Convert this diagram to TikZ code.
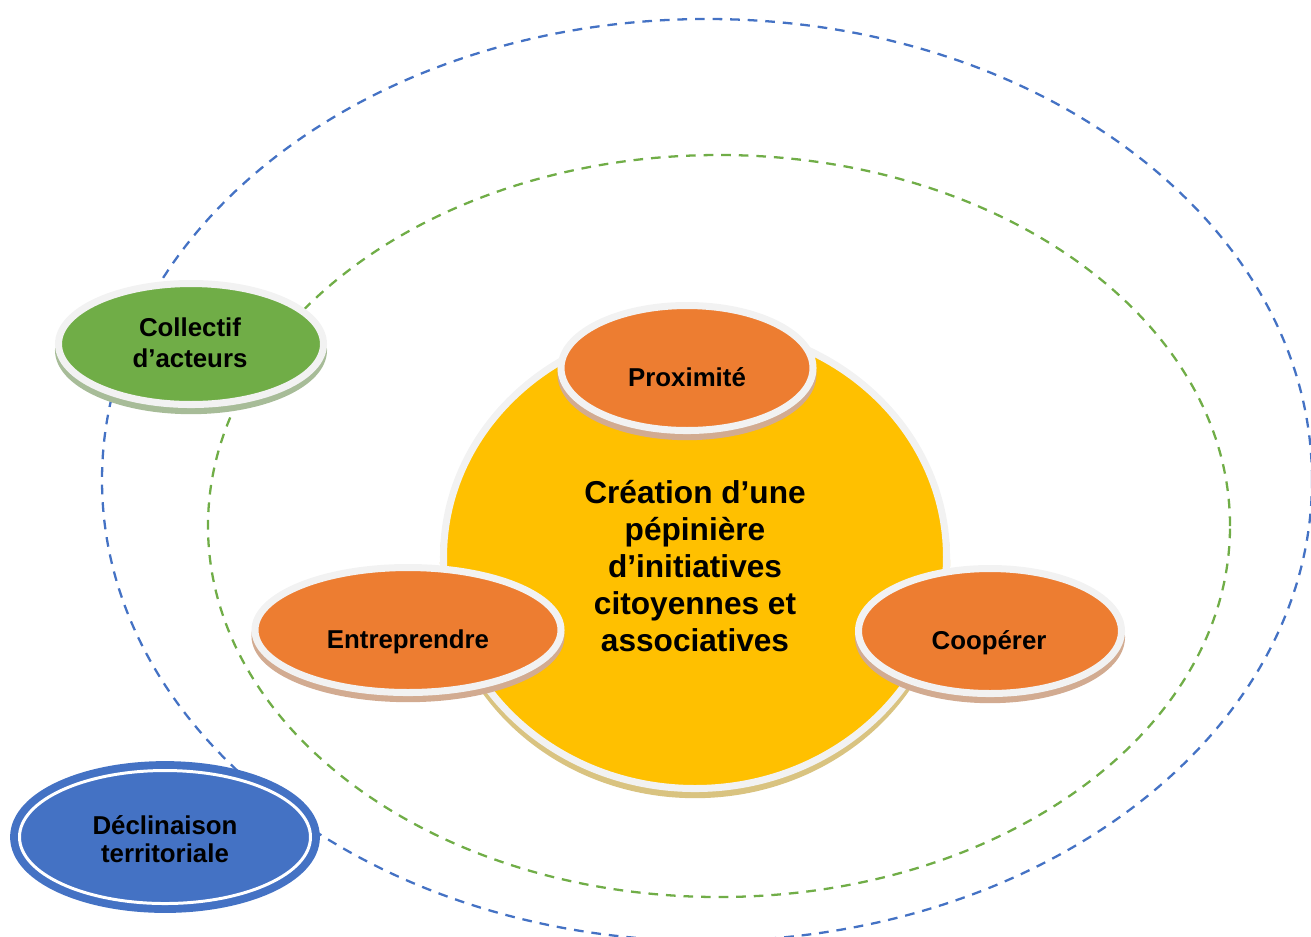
\documentclass[tikz,border=0pt]{standalone}
\usepackage{fontspec}
\setmainfont{Liberation Sans}
\usetikzlibrary{shapes.geometric}

\definecolor{bleu}{HTML}{4472C4}
\definecolor{vert}{HTML}{70AD47}
\definecolor{orangeb}{HTML}{ED7D31}
\definecolor{jaune}{HTML}{FFC000}
\definecolor{anneau}{HTML}{F2F2F2}

\tikzset{
    orbite/.style={line width=1.3pt, dash pattern=on 5.5pt off 4.5pt},
    petale/.style={ellipse, inner sep=0pt, fill=#1, draw=anneau, line width=4pt,
        preaction={fill=#1!70!black!50, draw=#1!70!black!50, line width=4pt,
            transform canvas={yshift=-3.5pt}}},
    bordure/.style={ellipse, inner sep=0pt, fill=bleu, draw=white, line width=1.7pt,
        preaction={draw=bleu, line width=10.7pt}},
    etiquette/.style={inner sep=0pt, align=center,
        font=\bfseries\fontsize{14.7}{17.6}\selectfont},
    titre/.style={inner sep=0pt, align=center,
        font=\bfseries\fontsize{18}{21}\selectfont}
}

\begin{document}
\begin{tikzpicture}
    \useasboundingbox (0,0) rectangle (26.22,-18.72);

    % Dashed orbits
    \draw[orbite,bleu] (14.14,-9.6) ellipse [x radius=12.1, y radius=9.22];
    \draw[orbite,vert] (14.38,-10.52) ellipse [x radius=10.22, y radius=7.42];

    % Central circle
    \node[petale=jaune, minimum width=10.06cm, minimum height=9.26cm] (pepiniere) at (13.9,-11.14) {};
    \node[titre] (pepiniere-t) at (13.9,-11.32)
        {Création d’une\\pépinière\\d’initiatives\\citoyennes et\\associatives};

    % Petals
    \node[petale=orangeb, minimum width=5.04cm, minimum height=2.5cm] (proximite) at (13.74,-7.36) {};
    \node[etiquette] (proximite-t) at (13.74,-7.54) {Proximité};

    \node[petale=orangeb, minimum width=6.12cm, minimum height=2.5cm] (entreprendre) at (8.16,-12.6) {};
    \node[etiquette] (entreprendre-t) at (8.16,-12.84) {Entreprendre};

    \node[petale=orangeb, minimum width=5.26cm, minimum height=2.5cm] (cooperer) at (19.8,-12.62) {};
    \node[etiquette] (cooperer-t) at (19.78,-12.86) {Coopérer};

    % Orbit labels
    \node[petale=vert, minimum width=5.3cm, minimum height=2.42cm] (collectif) at (3.82,-6.88) {};
    \node[etiquette] (collectif-t) at (3.8,-6.86) {Collectif\\d’acteurs};

    \node[bordure, minimum width=5.82cm, minimum height=2.66cm] (declinaison) at (3.3,-16.74) {};
    \node[etiquette, font=\bfseries\fontsize{14.7}{16.2}\selectfont] (declinaison-t) at (3.3,-16.78)
        {Déclinaison\\territoriale};
\end{tikzpicture}
\end{document}
